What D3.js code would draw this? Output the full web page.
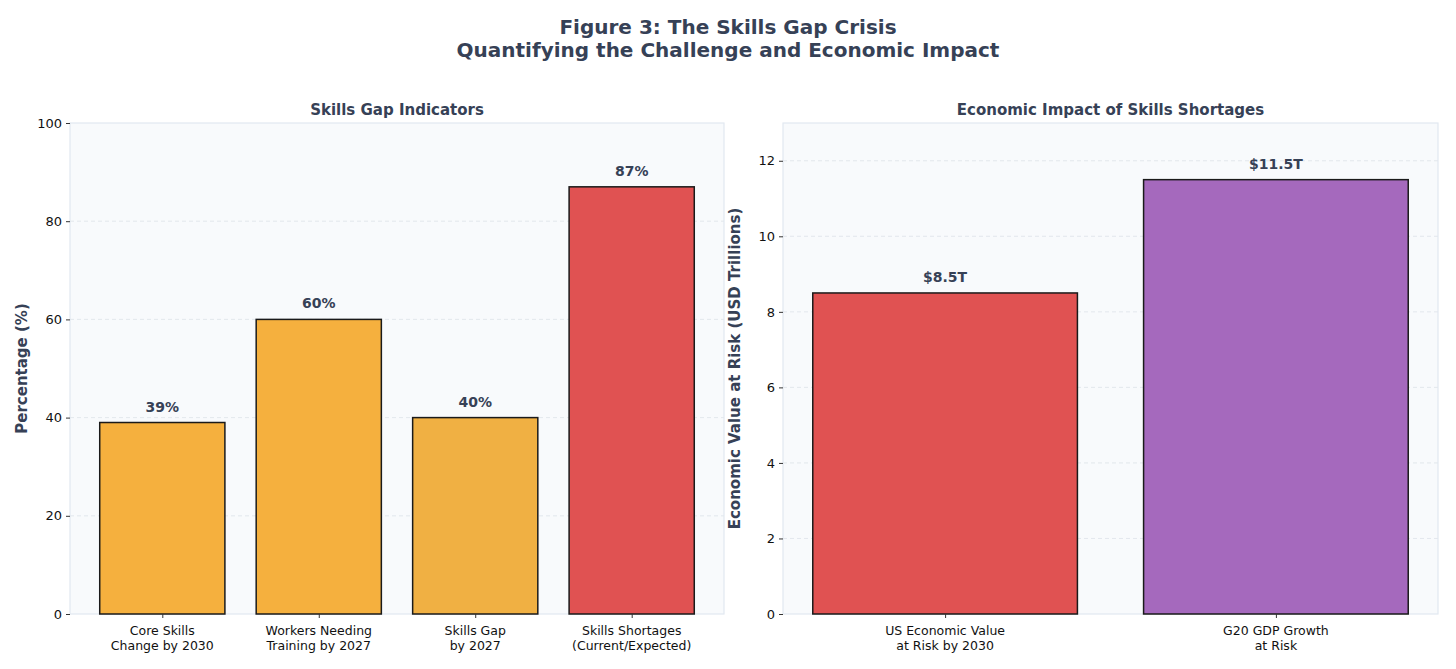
<!DOCTYPE html>
<html>
<head>
<meta charset="utf-8">
<script src="https://cdn.jsdelivr.net/npm/d3@7"></script>
<style>
  body { margin: 0; background: #fff; }
  svg text { font-family: "DejaVu Sans", sans-serif; }
</style>
</head>
<body>
<div id="chart"></div>
<script>
// left panel data
const gapCategories = ["Core Skills\nChange by 2030", "Workers Needing\nTraining by 2027", "Skills Gap\nby 2027", "Skills Shortages\n(Current/Expected)"];
const gapValues = [39, 60, 40, 87];
const gapColors = ["#F5B03E", "#F5B03E", "#F0B043", "#E05252"];
const gapTicks = [0, 20, 40, 60, 80, 100];

// right panel data
const econCategories = ["US Economic Value\nat Risk by 2030", "G20 GDP Growth\nat Risk"];
const econValues = [8.5, 11.5];
const econColors = ["#E05252", "#A569BD"];
const econTicks = [0, 2, 4, 6, 8, 10, 12];

const width = 1456, height = 669;
const ink = "#364156";

const svg = d3.select("#chart").append("svg")
  .attr("width", width)
  .attr("height", height);

svg.append("text")
  .attr("x", width / 2).attr("y", 34)
  .attr("text-anchor", "middle")
  .attr("font-size", 20).attr("font-weight", "bold").attr("fill", ink)
  .text("Figure 3: The Skills Gap Crisis");
svg.append("text")
  .attr("x", width / 2).attr("y", 57)
  .attr("text-anchor", "middle")
  .attr("font-size", 20).attr("font-weight", "bold").attr("fill", ink)
  .text("Quantifying the Challenge and Economic Impact");

const drawPanel = (opts) => {
  const { left, right, top, bottom, cats, vals, colors, ticks, yMax, title, yLabel, fmt } = opts;
  const g = svg.append("g");

  const n = cats.length;
  const pad = (n - 1 + 0.8) * 0.05;
  const x = d3.scaleLinear().domain([-0.4 - pad, n - 1 + 0.4 + pad]).range([left, right]);
  const y = d3.scaleLinear().domain([0, yMax]).range([bottom, top]);
  const bw = x(0.8) - x(0);

  g.append("rect")
    .attr("x", left).attr("y", top)
    .attr("width", right - left).attr("height", bottom - top)
    .attr("fill", "#F8FAFC");

  // grid
  g.selectAll(".grid")
    .data(ticks.filter((t) => t > 0 && t < yMax))
    .join("line")
    .attr("x1", left).attr("x2", right)
    .attr("y1", (d) => y(d)).attr("y2", (d) => y(d))
    .attr("stroke", "#DDE2E9")
    .attr("stroke-dasharray", "4,3")
    .attr("stroke-width", 0.8);

  g.append("rect")
    .attr("x", left).attr("y", top)
    .attr("width", right - left).attr("height", bottom - top)
    .attr("fill", "none")
    .attr("stroke", "#E2E8F0")
    .attr("stroke-width", 1.2);

  // bars
  g.selectAll(".bar")
    .data(vals)
    .join("rect")
    .attr("x", (d, i) => x(i) - bw / 2)
    .attr("y", (d) => y(d))
    .attr("width", bw)
    .attr("height", (d) => y(0) - y(d))
    .attr("fill", (d, i) => colors[i])
    .attr("stroke", "#1a1a1a")
    .attr("stroke-width", 1.5);

  g.selectAll(".val")
    .data(vals)
    .join("text")
    .attr("x", (d, i) => x(i))
    .attr("y", (d) => y(d) - 11)
    .attr("text-anchor", "middle")
    .attr("font-size", 14).attr("font-weight", "bold").attr("fill", ink)
    .text(fmt);

  // y axis
  const yAxis = g.append("g")
    .attr("transform", `translate(${left},0)`)
    .call(d3.axisLeft(y).tickValues(ticks).tickSize(4).tickPadding(4));
  yAxis.select(".domain").remove();
  yAxis.selectAll("line").attr("stroke", "#333");
  yAxis.selectAll("text").attr("font-size", 13).attr("fill", "#111");

  // x axis
  const xAxis = g.append("g")
    .attr("transform", `translate(0,${bottom})`)
    .call(d3.axisBottom(x).tickValues(d3.range(n)).tickSize(4).tickFormat(""));
  xAxis.select(".domain").remove();
  xAxis.selectAll("line").attr("stroke", "#333");

  cats.forEach((c, i) => {
    const t = g.append("text")
      .attr("x", x(i)).attr("y", bottom + 21)
      .attr("text-anchor", "middle")
      .attr("font-size", 12.5).attr("fill", "#111");
    c.split("\n").forEach((line, k) => {
      t.append("tspan").attr("x", x(i)).attr("dy", k === 0 ? 0 : 15).text(line);
    });
  });

  g.append("text")
    .attr("x", (left + right) / 2).attr("y", top - 8)
    .attr("text-anchor", "middle")
    .attr("font-size", 15).attr("font-weight", "bold").attr("fill", ink)
    .text(title);

  g.append("text")
    .attr("transform", `translate(${left - 43},${(top + bottom) / 2}) rotate(-90)`)
    .attr("text-anchor", "middle")
    .attr("font-size", 15).attr("font-weight", "bold").attr("fill", ink)
    .text(yLabel);
};

drawPanel({
  left: 70, right: 724, top: 123, bottom: 614,
  cats: gapCategories, vals: gapValues, colors: gapColors, ticks: gapTicks, yMax: 100,
  title: "Skills Gap Indicators", yLabel: "Percentage (%)",
  fmt: (d) => d + "%"
});

drawPanel({
  left: 783, right: 1438, top: 123, bottom: 614,
  cats: econCategories, vals: econValues, colors: econColors, ticks: econTicks, yMax: 13,
  title: "Economic Impact of Skills Shortages", yLabel: "Economic Value at Risk (USD Trillions)",
  fmt: (d) => "$" + d.toFixed(1) + "T"
});
</script>
</body>
</html>
